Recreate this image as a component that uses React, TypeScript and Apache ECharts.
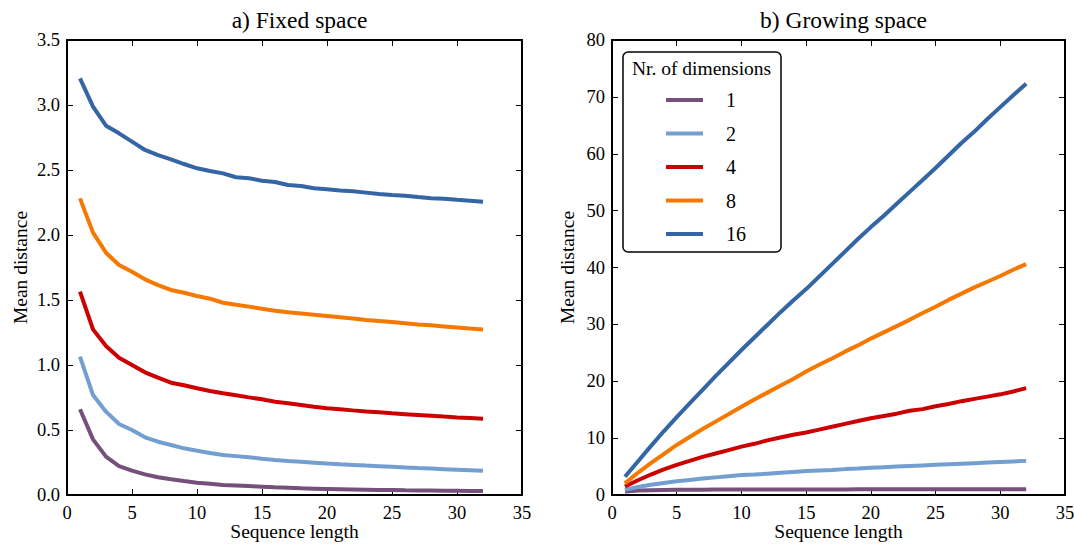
import React, { useEffect, useRef } from "react";
import * as echarts from "echarts";

const seqLen = [1,2,3,4,5,6,7,8,9,10,11,12,13,14,15,16,17,18,19,20,21,22,23,24,25,26,27,28,29,30,31,32];
const dimNames = ["1", "2", "4", "8", "16"];
const dimColors = ["#75507B", "#729FCF", "#CC0000", "#F57900", "#3465A4"];

const fixed1 = [0.659,0.428,0.295,0.223,0.187,0.159,0.136,0.121,0.107,0.095,0.086,0.077,0.073,0.069,0.064,0.059,0.055,0.051,0.049,0.047,0.045,0.043,0.041,0.039,0.038,0.036,0.035,0.034,0.033,0.032,0.031,0.030];
const fixed2 = [1.064,0.769,0.641,0.546,0.500,0.444,0.410,0.385,0.359,0.341,0.323,0.308,0.299,0.290,0.279,0.269,0.262,0.256,0.249,0.242,0.236,0.231,0.226,0.222,0.217,0.212,0.207,0.203,0.199,0.195,0.191,0.187];
const fixed4 = [1.564,1.274,1.146,1.056,1.000,0.944,0.903,0.864,0.844,0.821,0.800,0.782,0.767,0.751,0.736,0.718,0.705,0.692,0.679,0.668,0.660,0.651,0.643,0.636,0.628,0.622,0.616,0.610,0.603,0.597,0.592,0.587];
const fixed8 = [2.282,2.018,1.864,1.769,1.718,1.659,1.615,1.577,1.556,1.531,1.510,1.479,1.464,1.449,1.433,1.418,1.405,1.397,1.387,1.377,1.368,1.358,1.347,1.339,1.330,1.321,1.312,1.305,1.297,1.289,1.281,1.274];
const fixed16 = [3.205,2.987,2.841,2.782,2.718,2.654,2.615,2.582,2.546,2.513,2.492,2.474,2.444,2.436,2.418,2.408,2.385,2.377,2.359,2.352,2.343,2.336,2.326,2.316,2.308,2.302,2.292,2.283,2.279,2.271,2.264,2.256];

const grow1 = [0.62,0.78,0.85,0.89,0.91,0.93,0.94,0.95,0.96,0.96,0.97,0.97,0.97,0.98,0.98,0.98,0.98,0.98,0.99,0.99,0.99,0.99,0.99,0.99,0.99,0.99,0.99,1.0,1.0,1.0,1.0,1.0];
const grow2 = [0.9,1.4,1.8,2.1,2.4,2.65,2.9,3.1,3.3,3.5,3.6,3.75,3.9,4.05,4.2,4.3,4.4,4.55,4.65,4.8,4.9,5.0,5.1,5.2,5.3,5.4,5.5,5.6,5.7,5.8,5.9,6.0];
const grow4 = [1.5,2.6,3.6,4.5,5.3,6.0,6.7,7.3,7.9,8.5,9.0,9.6,10.1,10.6,11.0,11.5,12.0,12.5,13.0,13.5,13.9,14.3,14.8,15.1,15.6,16.0,16.5,16.9,17.3,17.7,18.2,18.8];
const grow8 = [2.05,3.9,5.6,7.2,8.8,10.2,11.6,12.9,14.2,15.5,16.8,18.0,19.2,20.4,21.7,22.9,24.0,25.2,26.3,27.5,28.6,29.7,30.8,32.0,33.1,34.3,35.4,36.5,37.5,38.5,39.6,40.6];
const grow16 = [3.2,5.9,8.6,11.2,13.7,16.1,18.5,20.9,23.2,25.5,27.7,29.9,32.1,34.2,36.2,38.4,40.6,42.8,45.0,47.1,49.1,51.2,53.3,55.4,57.5,59.7,61.9,63.9,66.1,68.2,70.3,72.3];

const fixedSeries = [fixed1, fixed2, fixed4, fixed8, fixed16];
const growSeries = [grow1, grow2, grow4, grow8, grow16];

const titles = ["a) Fixed space", "b) Growing space"];
const xName = "Sequence length";
const yName = "Mean distance";
const legendTitle = "Nr. of dimensions";

const FONT = "Liberation Serif";

export default function App() {
  const ref = useRef<HTMLDivElement>(null);
  useEffect(() => {
    if (!ref.current) return;
    const chart = echarts.init(ref.current, undefined, { renderer: "svg" });
    const grids = [
      { left: 67, top: 40, width: 455, height: 455, containLabel: false, outerBoundsMode: "none" },
      { left: 612, top: 40, width: 453, height: 455, containLabel: false, outerBoundsMode: "none" },
    ];
    const axisLine = { show: true, onZero: false, lineStyle: { color: "#000", width: 2 } };
    const tickIn = { show: true, inside: true, length: 6, lineStyle: { color: "#000", width: 1 } };
    const label = { color: "#000", fontFamily: FONT, fontSize: 18.5 };
    const nameStyle = { color: "#000", fontFamily: FONT, fontSize: 19.5 };
    const xAxes: any[] = [];
    const yAxes: any[] = [];
    [0, 1].forEach((g) => {
      xAxes.push({
        type: "value", gridIndex: g, min: 0, max: 35, interval: 5, position: "bottom",
        axisLine, axisTick: tickIn, splitLine: { show: false },
        axisLabel: { ...label, margin: 8 },
        name: xName, nameLocation: "middle", nameGap: 26, nameMoveOverlap: false,
        nameTextStyle: nameStyle,
      });
      xAxes.push({
        type: "value", gridIndex: g, min: 0, max: 35, interval: 5, position: "top",
        axisLine, axisTick: tickIn, splitLine: { show: false }, axisLabel: { show: false },
      });
      const ymax = g === 0 ? 3.5 : 80;
      const yint = g === 0 ? 0.5 : 10;
      yAxes.push({
        type: "value", gridIndex: g, min: 0, max: ymax, interval: yint, position: "left",
        axisLine, axisTick: tickIn, splitLine: { show: false },
        axisLabel: { ...label, margin: 7, formatter: (v: number) => (g === 0 ? v.toFixed(1) : String(v)) },
        name: yName, nameLocation: "middle", nameGap: g === 0 ? 37 : 35, nameMoveOverlap: false,
        nameTextStyle: nameStyle,
      });
      yAxes.push({
        type: "value", gridIndex: g, min: 0, max: ymax, interval: yint, position: "right",
        axisLine, axisTick: tickIn, splitLine: { show: false }, axisLabel: { show: false },
      });
    });
    const series: any[] = [];
    [fixedSeries, growSeries].forEach((set, g) => {
      set.forEach((vals, i) => {
        series.push({
          type: "line",
          name: dimNames[i],
          xAxisIndex: g * 2,
          yAxisIndex: g * 2,
          data: seqLen.map((x, k) => [x, vals[k]]),
          showSymbol: false,
          symbol: "none",
          color: dimColors[i],
          lineStyle: { width: 4, color: dimColors[i] },
          z: 2 + i,
        });
      });
    });
    const titleStyle = { fontFamily: FONT, fontSize: 23.5, fontWeight: "normal", color: "#000" };
    chart.setOption({
      animation: false,
      backgroundColor: "#fff",
      textStyle: { fontFamily: FONT },
      title: [
        { text: titles[0], left: 294.5, top: 3, textAlign: "center", textStyle: titleStyle },
        { text: titles[1], left: 838.5, top: 3, textAlign: "center", textStyle: titleStyle },
      ],
      grid: grids,
      xAxis: xAxes,
      yAxis: yAxes,
      legend: {
        data: dimNames,
        orient: "vertical",
        left: 623,
        top: 52,
        padding: [38, 35, 8, 43],
        itemGap: 13.5,
        itemWidth: 37,
        itemHeight: 4,
        icon: "rect",
        selectedMode: false,
        backgroundColor: "#fff",
        borderColor: "#000",
        borderWidth: 1.5,
        borderRadius: 5,
        z: 10,
        formatter: "{a|{name}}",
        textStyle: {
          color: "#000",
          fontFamily: FONT,
          fontSize: 20,
          rich: { a: { fontFamily: FONT, fontSize: 20, lineHeight: 20, padding: [0, 0, 0, 18], color: "#000" } },
        },
      },
      graphic: [
        {
          type: "text", left: 632, top: 58, z: 100,
          style: { text: legendTitle, fontFamily: FONT, fontSize: 19.5, fill: "#000" },
        },
      ],
      series,
    });
    return () => chart.dispose();
  }, []);
  return <div ref={ref} style={{ position: "fixed", left: 0, top: 0, width: 1074, height: 544 }} />;
}
